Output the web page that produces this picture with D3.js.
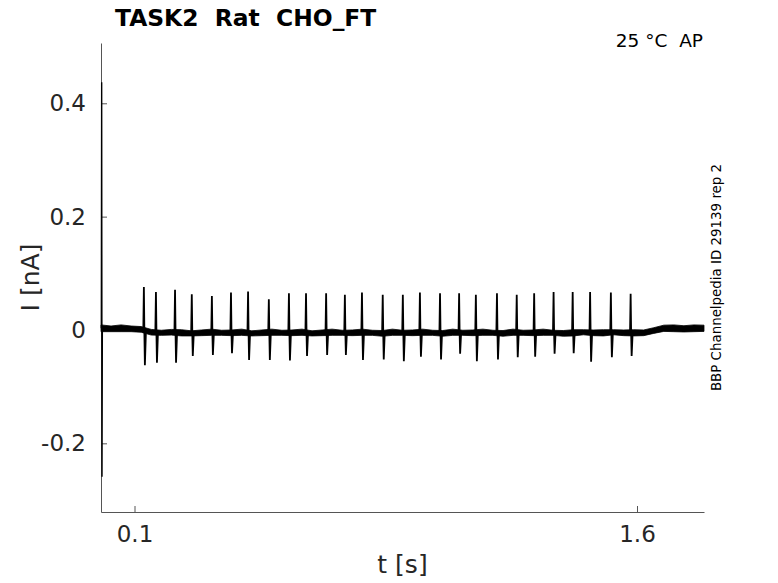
<!DOCTYPE html>
<html>
<head>
<meta charset="utf-8">
<script src="https://cdn.jsdelivr.net/npm/d3@7"></script>
<style>
  html, body { margin: 0; padding: 0; background: #fff; }
  svg { display: block; font-family: "DejaVu Sans", sans-serif; }
</style>
</head>
<body>
<svg id="chart" width="778" height="583"></svg>
<script>
// ---- data ----
const title = "TASK2  Rat  CHO_FT";
const conditionLabel = "25 °C  AP";
const sideLabel = "BBP Channelpedia ID 29139 rep 2";
const xTicks = [0.1, 1.6];
const xTickLabels = ["0.1", "1.6"];
const yTicks = [-0.2, 0, 0.2, 0.4];
const yTickLabels = ["-0.2", "0", "0.2", "0.4"];

// spike times (s), peak and trough currents (nA)
const spikeT = [0.128, 0.164, 0.221, 0.271, 0.331, 0.388, 0.439, 0.501, 0.561, 0.612,
                0.672, 0.728, 0.779, 0.841, 0.901, 0.952, 1.012, 1.069, 1.119, 1.182,
                1.241, 1.293, 1.351, 1.408, 1.460, 1.522, 1.581];
const spikePeak = [0.076, 0.067, 0.071, 0.063, 0.060, 0.066, 0.068, 0.054, 0.065, 0.065,
                   0.065, 0.062, 0.066, 0.062, 0.062, 0.066, 0.065, 0.065, 0.062, 0.065,
                   0.062, 0.065, 0.067, 0.067, 0.067, 0.066, 0.064];
const spikeTrough = [-0.062, -0.058, -0.058, -0.046, -0.044, -0.041, -0.053, -0.053, -0.054, -0.046,
                     -0.044, -0.044, -0.053, -0.052, -0.055, -0.047, -0.052, -0.042, -0.055, -0.052,
                     -0.048, -0.047, -0.042, -0.041, -0.056, -0.048, -0.046];

// baseline (holding current) level and noise half-width (nA)
const baseT = [0.00, 0.03, 0.06, 0.09, 0.12, 0.15, 0.18, 0.21, 0.24, 0.27,
               0.30, 0.33, 0.36, 0.39, 0.42, 0.45, 0.48, 0.51, 0.54, 0.57,
               0.60, 0.63, 0.66, 0.69, 0.72, 0.75, 0.78, 0.81, 0.84, 0.87,
               0.90, 0.93, 0.96, 0.99, 1.02, 1.05, 1.08, 1.11, 1.14, 1.17,
               1.20, 1.23, 1.26, 1.29, 1.32, 1.35, 1.38, 1.41, 1.44, 1.47,
               1.50, 1.53, 1.56, 1.59, 1.62, 1.65, 1.68, 1.71, 1.74, 1.77, 1.80];
const baseI = [0.003, 0.002, 0.003, 0.002, 0.001, -0.004, -0.005, -0.004, -0.005, -0.006,
               -0.005, -0.004, -0.005, -0.005, -0.004, -0.006, -0.005, -0.004, -0.005, -0.005,
               -0.004, -0.006, -0.005, -0.004, -0.005, -0.005, -0.004, -0.005, -0.006, -0.004,
               -0.005, -0.005, -0.004, -0.005, -0.006, -0.004, -0.005, -0.005, -0.004, -0.005,
               -0.006, -0.004, -0.005, -0.005, -0.004, -0.005, -0.006, -0.005, -0.004, -0.005,
               -0.005, -0.004, -0.005, -0.005, -0.005, -0.001, 0.003, 0.003, 0.002, 0.003, 0.003];
const baseNoise = [0.006, 0.005, 0.006, 0.005, 0.005, 0.005, 0.0045, 0.005, 0.0055, 0.0045,
                   0.005, 0.0055, 0.0045, 0.005, 0.0055, 0.0045, 0.005, 0.0055, 0.0045, 0.005,
                   0.0055, 0.0045, 0.005, 0.0055, 0.0045, 0.005, 0.0055, 0.0045, 0.005, 0.0055,
                   0.0045, 0.005, 0.0055, 0.0045, 0.005, 0.0055, 0.0045, 0.005, 0.0055, 0.0045,
                   0.005, 0.0055, 0.0045, 0.005, 0.0055, 0.0045, 0.005, 0.0055, 0.0045, 0.005,
                   0.0055, 0.0045, 0.005, 0.0055, 0.005, 0.005, 0.0055, 0.006, 0.0055, 0.006, 0.0055];

// capacitive transient at the start of the trace
const transientT = [0.001, 0.002, 0.003, 0.004];
const transientI = [0.003, 0.437, -0.259, 0.003];

// ---- layout ----
const svg = d3.select("#chart");
const padL = 101, padR = 704, padT = 43, padB = 512;
const x = d3.scaleLinear().domain([0, 1.8]).range([padL, padR]);
const y = d3.scaleLinear().domain([-0.3212, 0.5064]).range([padB, padT]);
const axisColor = "#555";
const textColor = "#262626";

// ---- axes ----
const xAxis = svg.append("g").attr("transform", `translate(0,${padB})`)
  .call(d3.axisBottom(x).tickValues(xTicks).tickFormat((d, i) => xTickLabels[i]).tickSizeInner(-6).tickSizeOuter(0).tickPadding(14));
const yAxis = svg.append("g").attr("transform", `translate(${padL},0)`)
  .call(d3.axisLeft(y).tickValues(yTicks).tickFormat((d, i) => yTickLabels[i]).tickSizeInner(-6).tickSizeOuter(0).tickPadding(15));

[xAxis, yAxis].forEach(g => {
  g.select(".domain").attr("stroke", axisColor).attr("stroke-width", 1);
  g.selectAll(".tick line").attr("stroke", axisColor).attr("stroke-width", 1);
  g.selectAll(".tick text")
    .attr("fill", textColor)
    .style("font-family", "DejaVu Sans, sans-serif")
    .style("font-size", "23px");
});

// ---- trace ----
const band = baseT.map((t, i) => ({ t, lo: baseI[i] - baseNoise[i], hi: baseI[i] + baseNoise[i] }));
svg.append("path")
  .datum(band)
  .attr("fill", "#000")
  .attr("stroke", "#000")
  .attr("stroke-width", 0.8)
  .attr("d", d3.area().x(d => x(d.t)).y0(d => y(d.lo)).y1(d => y(d.hi)));

const line = d3.line().x(d => d[0]).y(d => d[1]);
spikeT.forEach((t, i) => {
  const b = -0.005;
  const pts = [
    [x(t) - 0.6, y(b)],
    [x(t), y(spikePeak[i])],
    [x(t) + 0.5, y(b)],
    [x(t) + 1.0, y(spikeTrough[i])],
    [x(t) + 2.0, y(b)]
  ];
  svg.append("path")
    .attr("d", line(pts))
    .attr("fill", "none")
    .attr("stroke", "#000")
    .attr("stroke-width", 1.8)
    .attr("stroke-linejoin", "miter");
});

svg.append("path")
  .datum(transientT.map((t, i) => [t, transientI[i]]))
  .attr("fill", "none")
  .attr("stroke", "#000")
  .attr("stroke-width", 1.4)
  .attr("d", d3.line().x(d => x(d[0])).y(d => y(d[1])));

// ---- labels ----
svg.append("text")
  .attr("x", (padL + padR) / 2).attr("y", 573)
  .attr("text-anchor", "middle")
  .attr("fill", textColor)
  .style("font-size", "25px")
  .text("t [s]");

svg.append("text")
  .attr("transform", `translate(39,${(padT + padB) / 2}) rotate(-90)`)
  .attr("text-anchor", "middle")
  .attr("fill", textColor)
  .style("font-size", "25px")
  .text("I [nA]");

svg.append("text")
  .attr("x", 115).attr("y", 26)
  .attr("fill", "#000")
  .style("font-size", "23.4px")
  .style("font-weight", "bold")
  .style("white-space", "pre")
  .attr("xml:space", "preserve")
  .text(title);

svg.append("text")
  .attr("x", 703).attr("y", 47)
  .attr("text-anchor", "end")
  .attr("fill", "#000")
  .style("font-size", "18.5px")
  .style("white-space", "pre")
  .attr("xml:space", "preserve")
  .text(conditionLabel);

svg.append("text")
  .attr("transform", `translate(721,277.5) rotate(-90)`)
  .attr("text-anchor", "middle")
  .attr("fill", "#000")
  .style("font-size", "13.4px")
  .text(sideLabel);
</script>
</body>
</html>
